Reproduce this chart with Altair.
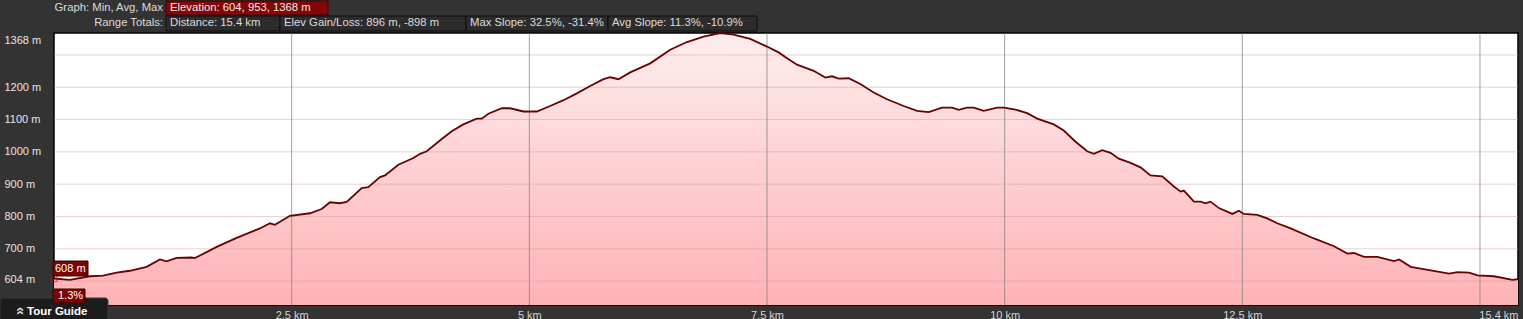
import altair as alt
import pandas as pd

# ---- data ----
distance_km = [
    0, 0.166, 0.377, 0.517, 0.658, 0.798, 0.974, 1.114, 1.184, 1.289,
    1.447, 1.482, 1.711, 1.921, 2.166, 2.272, 2.324, 2.482, 2.693, 2.816,
    2.903, 3.008, 3.079, 3.237, 3.306, 3.429, 3.482, 3.622, 3.780, 3.851,
    3.921, 4.079, 4.184, 4.306, 4.447, 4.5, 4.569, 4.711, 4.798, 4.938,
    5.079, 5.219, 5.359, 5.5, 5.64, 5.78, 5.851, 5.938, 6.061, 6.272,
    6.482, 6.658, 6.833, 7.008, 7.148, 7.324, 7.5, 7.622, 7.727, 7.816,
    7.991, 8.114, 8.184, 8.254, 8.359, 8.482, 8.622, 8.763, 8.938, 9.079,
    9.201, 9.342, 9.447, 9.517, 9.605, 9.675, 9.78, 9.921, 9.991, 10.114,
    10.237, 10.342, 10.517, 10.622, 10.74, 10.868, 10.938, 11.026, 11.114, 11.201,
    11.324, 11.429, 11.534, 11.658, 11.78, 11.851, 11.885, 11.991, 12.061, 12.113,
    12.166, 12.254, 12.395, 12.464, 12.517, 12.658, 12.763, 12.868, 13.008, 13.254,
    13.464, 13.605, 13.675, 13.78, 13.921, 14.096, 14.149, 14.272, 14.482, 14.675,
    14.763, 14.885, 14.974, 15.148, 15.342, 15.4,
]
elevation_m = [
    608, 604, 615, 617, 626, 632, 644, 667, 661, 672,
    673, 671, 706, 734, 763, 779, 774, 802, 810, 823,
    844, 841, 845, 888, 891, 922, 927, 960, 981, 994,
    1002, 1040, 1064, 1085, 1103, 1103, 1118, 1135, 1135, 1125,
    1125, 1142, 1160, 1181, 1204, 1225, 1231, 1225, 1246, 1274,
    1316, 1340, 1357, 1368, 1363, 1350, 1326, 1308, 1287, 1270,
    1251, 1230, 1234, 1227, 1228, 1210, 1184, 1163, 1142, 1127,
    1123, 1137, 1137, 1130, 1137, 1137, 1127, 1137, 1137, 1131,
    1120, 1103, 1085, 1066, 1033, 1002, 994, 1005, 997, 979,
    966, 952, 927, 924, 893, 877, 880, 846, 846, 841,
    846, 826, 808, 818, 808, 805, 794, 779, 763, 732,
    708, 685, 687, 675, 675, 662, 667, 644, 633, 623,
    628, 626, 618, 615, 604, 606,
]
y_grid_values = [600, 700, 800, 900, 1000, 1100, 1200, 1300]
x_grid_values = [2.5, 5, 7.5, 10, 12.5, 15]
y_label_values = [604, 700, 800, 900, 1000, 1100, 1200, 1368]
x_label_values = [2.5, 5, 7.5, 10, 12.5, 15.4]
y_domain = [526, 1368]
x_domain = [0, 15.4]
cursor_km = [0]
cursor_elev = [608]

header_row1_label = "Graph: Min, Avg, Max"
header_row1_value = "Elevation: 604, 953, 1368 m"
header_row2_label = "Range Totals:"
header_row2_values = [
    "Distance: 15.4 km",
    "Elev Gain/Loss: 896 m, -898 m",
    "Max Slope: 32.5%, -31.4%",
    "Avg Slope: 11.3%, -10.9%",
]
cursor_elev_text = "608 m"
cursor_slope_text = "1.3%"
tab_text = "Tour Guide"

# ---- layout ----
PL, PT = 54, 33          # plot origin in page pixels
W, H = 1464, 272
FONT = "Liberation Sans"

df = pd.DataFrame({"km": distance_km, "elev": elevation_m})
xs = alt.Scale(domain=x_domain, nice=False, zero=False)
ys = alt.Scale(domain=y_domain, nice=False, zero=False)

x_axis = alt.Axis(
    values=x_label_values, labelExpr="datum.value + ' km'", title=None,
    ticks=False, tickSize=0, domain=False, grid=False, labelFlush=False,
    labelOverlap=False, labelPadding=4, labelFont=FONT, labelFontSize=11,
    labelColor="#d4d4d4",
    labelAlign={"condition": {"test": "datum.value == 15.4", "value": "right"}, "value": "center"},
)
y_axis = alt.Axis(
    values=y_label_values, labelExpr="datum.value + ' m'", title=None,
    ticks=False, tickSize=0, domain=False, grid=False, labelFlush=False,
    labelOverlap=False, labelPadding=50, labelAlign="left", labelBaseline="middle",
    labelFont=FONT, labelFontSize=11, labelColor="#f0e2e2",
    labelOffset={"condition": {"test": "datum.value == 1368", "value": 7}, "value": 0},
)


def X(field):
    return alt.X(field, scale=xs, axis=x_axis, title=None)


def Y(field):
    return alt.Y(field, scale=ys, axis=y_axis, title=None)


gradient = alt.Gradient(
    gradient="linear",
    stops=[alt.GradientStop(color="#fdeeee", offset=0),
           alt.GradientStop(color="#ffb2b5", offset=1)],
    x1=1, x2=1, y1=0, y2=1,
)

area = alt.Chart(df).mark_area(color=gradient, line=False).encode(
    x=X("km:Q"), y=Y("elev:Q"), y2=alt.datum(y_domain[0]),
)

hgrid = alt.Chart(pd.DataFrame({"g": y_grid_values})).mark_rule(
    color="#d4a0a5", opacity=0.5, strokeWidth=1
).encode(y=Y("g:Q"))

vgrid = alt.Chart(pd.DataFrame({"g": x_grid_values})).mark_rule(
    color="#7a7a7a", opacity=0.7, strokeWidth=1
).encode(x=X("g:Q"))

line = alt.Chart(df).mark_line(color="#6a0000", strokeWidth=1.8).encode(
    x=X("km:Q"), y=Y("elev:Q"),
)

cursor = alt.Chart(pd.DataFrame({"km": cursor_km, "elev": cursor_elev})).mark_point(
    shape="square", filled=False, color="#e00000", size=40, strokeWidth=1
).encode(x=X("km:Q"), y=Y("elev:Q"))


def box(x0, x1, y0, y1, fill, stroke="#111111", radius=0):
    return alt.Chart(alt.Data(values=[{}])).mark_rect(
        fill=fill, stroke=stroke, strokeWidth=1, cornerRadius=radius
    ).encode(
        x=alt.value(x0 - PL), x2=alt.value(x1 - PL),
        y=alt.value(y0 - PT), y2=alt.value(y1 - PT),
    )


def label(text, x, y, color="#dcdcdc", align="left", weight="normal", size=11, angle=0):
    return alt.Chart(pd.DataFrame({"t": [text]})).mark_text(
        align=align, baseline="middle", font=FONT, fontSize=size,
        color=color, fontWeight=weight, angle=angle,
    ).encode(x=alt.value(x - PL), y=alt.value(y - PT), text="t:N")


HS = 11.3  # header font size
row2_edges = [166, 280, 466, 608, 757]
header = [
    label(header_row1_label, 163, 8, align="right", size=HS),
    box(166, 328, 1, 15, "#820808", "#3a0000"),
    label(header_row1_value, 170, 8, color="#f2e6e6", size=HS),
    label(header_row2_label, 163, 23, align="right", size=HS),
]
for i, t in enumerate(header_row2_values):
    header.append(box(row2_edges[i], row2_edges[i + 1], 16, 31, "#2c2c2c", "#0e0e0e"))
    header.append(label(t, row2_edges[i] + 4, 23, size=HS))

annotations = [
    box(53, 88, 261, 276, "#7a0505", "#3a0000"),
    label(cursor_elev_text, 55, 268.5, color="#ffffff"),
    box(0, 108, 298, 322, "#1c1c1c", "#3a3a3a", radius=3),
    box(53, 85, 289, 303, "#7a0505", "#3a0000"),
    label(cursor_slope_text, 58, 296, color="#ffffff"),
    label("»", 19, 311, color="#d8d8d8", align="center", weight="bold", size=15, angle=270),
    label(tab_text, 27, 312, color="#ffffff", weight="bold", size=11.5),
]

chart = alt.layer(area, hgrid, vgrid, line, cursor, *header, *annotations).properties(
    width=W, height=H, background="#333333",
    padding={"left": PL, "top": PT, "right": 1523 - PL - W, "bottom": 319 - PT - H},
    autosize=alt.AutoSizeParams(type="none"),
).configure_view(fill="#ffffff", stroke="#000000", strokeWidth=1.5)

chart.save("out.html", embed_options={"renderer": "svg", "actions": False})
